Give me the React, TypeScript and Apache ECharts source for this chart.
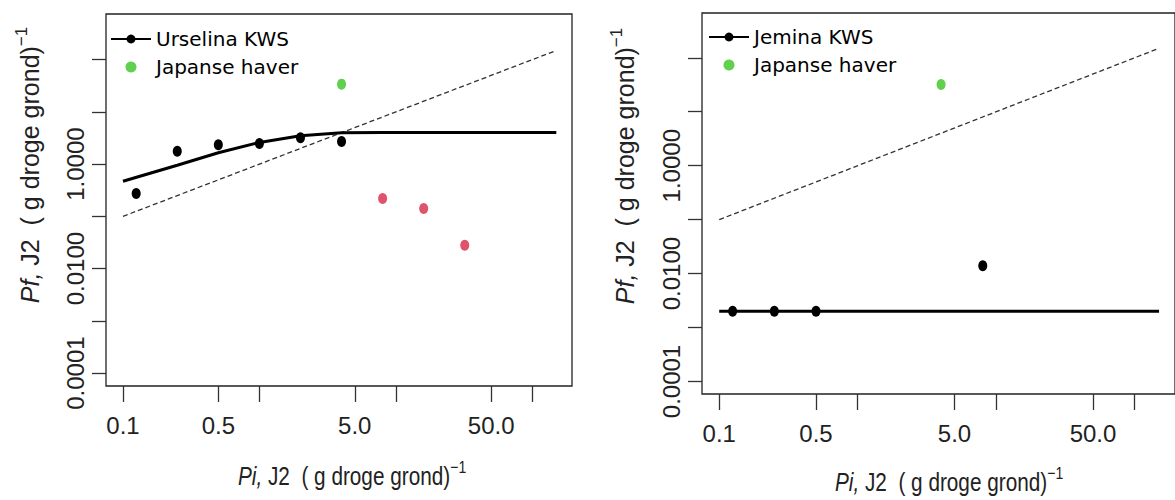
import React, { useEffect, useRef } from 'react';
import * as echarts from 'echarts';

// ---- axis ticks / labels (raw values) ----
const xTickValues = [0.1, 0.5, 1, 5, 10, 50, 100];
const xLabelValues = [0.1, 0.5, 5, 50];
const xLabelTexts = ['0.1', '0.5', '5.0', '50.0'];
const yTickValues = [0.0001, 0.001, 0.01, 0.1, 1, 10, 100];
const yLabelValues = [0.0001, 0.01, 1];
const yLabelTexts = ['0.0001', '0.0100', '1.0000'];

// axis extents (raw values)
const xRange = [0.0751, 195.5];
const yRangeLeft = [5.66e-5, 748];
const yRangeRight = [5.87e-5, 676];

// ---- left panel: Urselina KWS ----
const urselinaPi = [0.125, 0.25, 0.5, 1, 2, 4];
const urselinaPf = [0.275, 1.77, 2.34, 2.49, 3.19, 2.72];
const urselinaRedPi = [8, 16, 32];
const urselinaRedPf = [0.22, 0.142, 0.028];
const urselinaFitPi = [0.1, 0.25, 0.5, 1, 2, 4, 8, 150];
const urselinaFitPf = [0.47, 0.95, 1.65, 2.6, 3.5, 4.0, 4.05, 4.05];
const haverLeftPi = [4];
const haverLeftPf = [34];

// ---- right panel: Jemina KWS ----
const jeminaPi = [0.125, 0.25, 0.5, 8];
const jeminaPf = [0.002, 0.002, 0.002, 0.014];
const jeminaFitPi = [0.1, 150];
const jeminaFitPf = [0.002, 0.002];
const haverRightPi = [4];
const haverRightPf = [32];

// 1:1 reference line
const oneToOnePi = [0.1, 150];

const BLACK = '#000000';
const RED = '#DF536B';
const GREEN = '#61D04F';
const AXIS = '#222222';
const SANS = "'Liberation Sans', Arial, Helvetica, sans-serif";
const NARROW = "'Liberation Sans Narrow', 'Liberation Sans', Arial, sans-serif";
const LEGEND_FONT = "'DejaVu Sans', Verdana, sans-serif";

const lg = (v: number) => Math.log10(v);
const pairs = (xs: number[], ys: number[]) => xs.map((x, i) => [lg(x), lg(ys[i])]);

const labelFor = (v: number, vals: number[], texts: string[]) => {
  for (let i = 0; i < vals.length; i++) {
    if (Math.abs(lg(vals[i]) - v) < 1e-6) return texts[i];
  }
  return '';
};

const mkX = (gridIndex: number) => ({
  type: 'value',
  gridIndex,
  min: lg(xRange[0]),
  max: lg(xRange[1]),
  axisLine: { show: false, onZero: false },
  splitLine: { show: false },
  axisTick: {
    show: true,
    length: 16,
    customValues: xTickValues.map(lg),
    lineStyle: { color: '#333', width: 1.3 },
  },
  axisLabel: {
    customValues: xLabelValues.map(lg),
    formatter: (v: number) => labelFor(v, xLabelValues, xLabelTexts),
    margin: 27,
    fontSize: 24,
    fontFamily: NARROW,
    color: AXIS,
  },
});

const mkY = (gridIndex: number, range: number[]) => ({
  type: 'value',
  gridIndex,
  min: lg(range[0]),
  max: lg(range[1]),
  axisLine: { show: false, onZero: false },
  splitLine: { show: false },
  axisTick: {
    show: true,
    length: 14,
    customValues: yTickValues.map(lg),
    lineStyle: { color: '#333', width: 1.3 },
  },
  axisLabel: {
    customValues: yLabelValues.map(lg),
    formatter: (v: number) => labelFor(v, yLabelValues, yLabelTexts),
    rotate: 90,
    margin: 19,
    fontSize: 24,
    fontFamily: SANS,
    color: AXIS,
  },
});

const titleRich = {
  it: { fontStyle: 'italic', fontSize: 25, fontFamily: SANS, fill: AXIS, color: AXIS },
  sup: { fontSize: 17, fontFamily: SANS, padding: [0, 0, 18, 0], fill: AXIS, color: AXIS },
};

const yTitleText = '{it|Pf,} J2  ( g droge grond){sup|−1}';
const xTitleText = '{it|Pi,} J2  ( g droge grond){sup|−1}';

const pointSize = [9, 11];

const option: any = {
  animation: false,
  backgroundColor: '#ffffff',
  grid: [
    { left: 106, top: 14, width: 466, height: 372, show: true, borderColor: '#222', borderWidth: 1.3, containLabel: false },
    { left: 702, top: 13, width: 476, height: 381, show: true, borderColor: '#222', borderWidth: 1.3, containLabel: false },
  ],
  xAxis: [mkX(0), mkX(1)],
  yAxis: [mkY(0, yRangeLeft), mkY(1, yRangeRight)],
  legend: [
    {
      left: 110,
      top: 23,
      padding: 0,
      orient: 'vertical',
      itemWidth: 40,
      itemHeight: 11,
      itemGap: 1,
      selectedMode: false,
      textStyle: { fontSize: 20, fontFamily: LEGEND_FONT, color: '#000', lineHeight: 22 },
      data: [
        { name: 'Urselina KWS', textStyle: { padding: [0, 0, 10, 0] } },
        { name: 'Japanse haver' },
      ],
    },
    {
      left: 708,
      top: 21,
      padding: 0,
      orient: 'vertical',
      itemWidth: 40,
      itemHeight: 11,
      itemGap: 1,
      selectedMode: false,
      textStyle: { fontSize: 20, fontFamily: LEGEND_FONT, color: '#000', lineHeight: 22 },
      data: [
        { name: 'Jemina KWS', textStyle: { padding: [0, 0, 10, 0] } },
        { name: 'Japanse haver' },
      ],
    },
  ],
  graphic: [
    {
      type: 'text', x: 30, y: 165, rotation: Math.PI / 2,
      style: { text: yTitleText, rich: titleRich, fontSize: 25, fontFamily: SANS, fill: AXIS, align: 'center', verticalAlign: 'middle' },
    },
    {
      type: 'text', x: 625, y: 166, rotation: Math.PI / 2,
      style: { text: yTitleText, rich: titleRich, fontSize: 25, fontFamily: SANS, fill: AXIS, align: 'center', verticalAlign: 'middle' },
    },
    {
      type: 'text', x: 238, y: 476, scaleX: 0.83,
      style: { text: xTitleText, rich: titleRich, fontSize: 25, fontFamily: SANS, fill: AXIS, align: 'left', verticalAlign: 'middle' },
    },
    {
      type: 'text', x: 835, y: 482, scaleX: 0.83,
      style: { text: xTitleText, rich: titleRich, fontSize: 25, fontFamily: SANS, fill: AXIS, align: 'left', verticalAlign: 'middle' },
    },
  ],
  series: [
    // ---- left panel ----
    {
      name: '1:1 links', type: 'line', xAxisIndex: 0, yAxisIndex: 0,
      data: pairs(oneToOnePi, oneToOnePi), symbol: 'none',
      lineStyle: { color: '#333', width: 1.3, type: [5, 3] }, z: 1,
    },
    {
      name: 'Urselina KWS', type: 'line', xAxisIndex: 0, yAxisIndex: 0,
      data: pairs(urselinaFitPi, urselinaFitPf), symbol: 'none',
      itemStyle: { color: BLACK }, lineStyle: { color: BLACK, width: 3 }, z: 2,
    },
    {
      name: 'Urselina KWS waarnemingen', type: 'scatter', xAxisIndex: 0, yAxisIndex: 0,
      data: pairs(urselinaPi, urselinaPf), symbol: 'circle', symbolSize: pointSize,
      itemStyle: { color: BLACK, opacity: 1 }, z: 3,
    },
    {
      name: 'Urselina KWS rood', type: 'scatter', xAxisIndex: 0, yAxisIndex: 0,
      data: pairs(urselinaRedPi, urselinaRedPf), symbol: 'circle', symbolSize: pointSize,
      itemStyle: { color: RED, opacity: 1 }, z: 3,
    },
    {
      name: 'Japanse haver', type: 'scatter', xAxisIndex: 0, yAxisIndex: 0,
      data: pairs(haverLeftPi, haverLeftPf), symbol: 'circle', symbolSize: pointSize,
      itemStyle: { color: GREEN, opacity: 1 }, z: 3,
    },
    // ---- right panel ----
    {
      name: '1:1 rechts', type: 'line', xAxisIndex: 1, yAxisIndex: 1,
      data: pairs(oneToOnePi, oneToOnePi), symbol: 'none',
      lineStyle: { color: '#333', width: 1.3, type: [5, 3] }, z: 1,
    },
    {
      name: 'Jemina KWS', type: 'line', xAxisIndex: 1, yAxisIndex: 1,
      data: pairs(jeminaFitPi, jeminaFitPf), symbol: 'none',
      itemStyle: { color: BLACK }, lineStyle: { color: BLACK, width: 3 }, z: 2,
    },
    {
      name: 'Jemina KWS waarnemingen', type: 'scatter', xAxisIndex: 1, yAxisIndex: 1,
      data: pairs(jeminaPi, jeminaPf), symbol: 'circle', symbolSize: pointSize,
      itemStyle: { color: BLACK, opacity: 1 }, z: 3,
    },
    {
      name: 'Japanse haver', type: 'scatter', xAxisIndex: 1, yAxisIndex: 1,
      data: pairs(haverRightPi, haverRightPf), symbol: 'circle', symbolSize: pointSize,
      itemStyle: { color: GREEN, opacity: 1 }, z: 3,
    },
  ],
};

export default function App() {
  const ref = useRef<HTMLDivElement>(null);
  useEffect(() => {
    const chart = echarts.init(ref.current as HTMLDivElement, undefined, { renderer: 'svg' });
    chart.setOption(option);
    return () => chart.dispose();
  }, []);
  return (
    <div
      ref={ref}
      style={{ position: 'fixed', left: 0, top: 0, width: 1175, height: 500, background: '#ffffff' }}
    />
  );
}
